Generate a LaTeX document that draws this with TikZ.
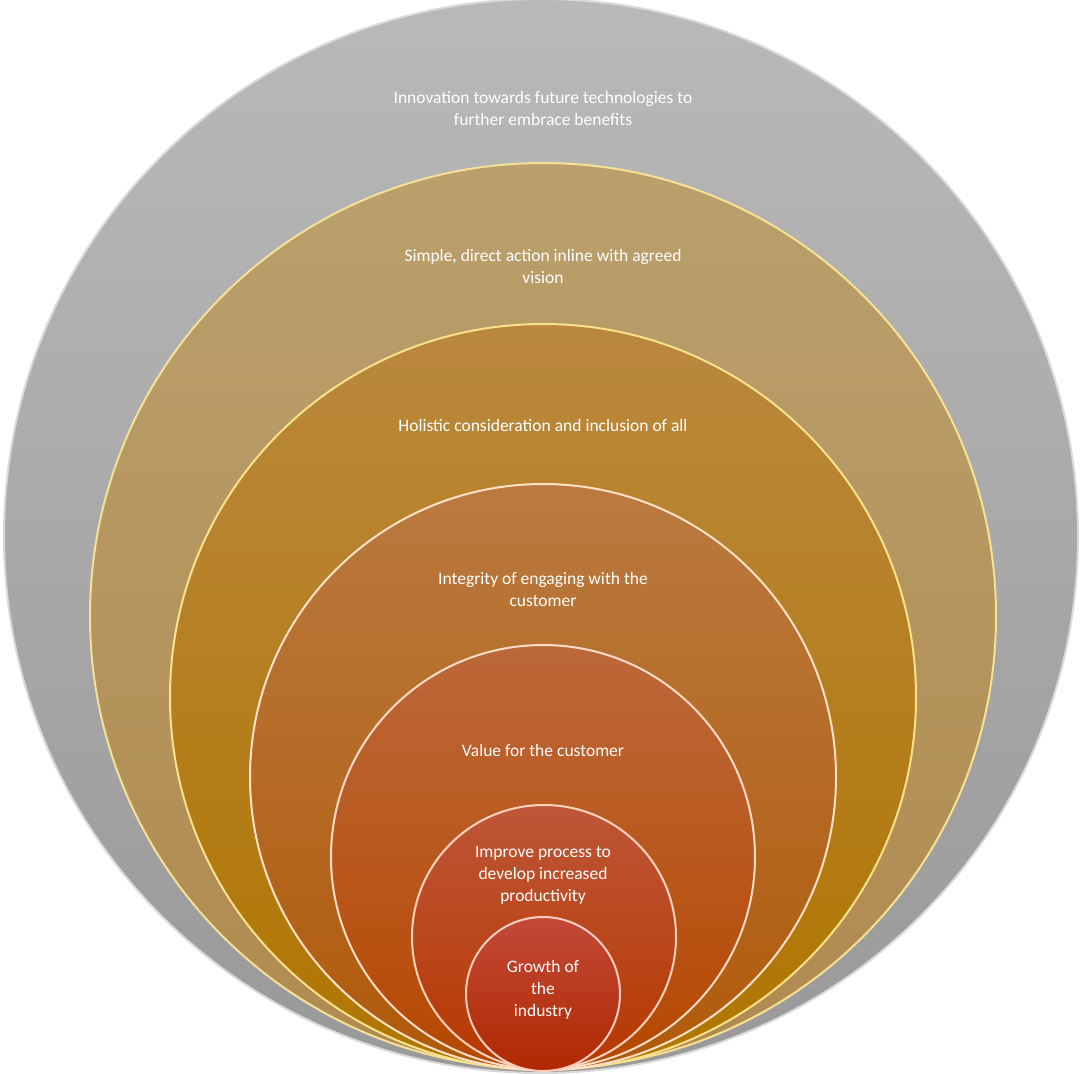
\documentclass[tikz,border=0pt]{standalone}
\usepackage{fontspec}
\setmainfont{Carlito}
\definecolor{a2}{RGB}{186,160,108}\definecolor{b2}{RGB}{176,138,80}\definecolor{r2}{RGB}{245,225,150}
\definecolor{a3}{RGB}{186,136,62}\definecolor{b3}{RGB}{176,118,0}\definecolor{r3}{RGB}{250,225,140}
\definecolor{a4}{RGB}{186,122,64}\definecolor{b4}{RGB}{176,90,10}\definecolor{r4}{RGB}{255,225,200}
\definecolor{a5}{RGB}{188,104,58}\definecolor{b5}{RGB}{182,72,0}\definecolor{r5}{RGB}{255,220,200}
\definecolor{a6}{RGB}{190,86,56}\definecolor{b6}{RGB}{182,56,0}\definecolor{r6}{RGB}{255,210,190}
\definecolor{a7}{RGB}{194,74,56}\definecolor{b7}{RGB}{176,40,0}\definecolor{r7}{RGB}{255,205,190}
\begin{document}
\begin{tikzpicture}[x=1pt,y=-1pt,
  lbl/.style={text=white,align=center,font=\fontsize{17.5}{22}\selectfont,inner sep=0pt},
  ring/.style={draw=#1,line width=2pt}]
\useasboundingbox (0,0) rectangle (1085,1074);
\shade[top color=gray!55,bottom color=gray!80,ring=gray!30] (541,536) circle (537) ;
\node[circle,minimum size=1074,inner sep=0] (c1) at (541,536) {};
\shade[top color=a2,bottom color=b2,ring=r2] (543,616) circle (453);
\node[circle,minimum size=906,inner sep=0] (c2) at (543,616) {};
\shade[top color=a3,bottom color=b3,ring=r3] (543,697) circle (373);
\node[circle,minimum size=746,inner sep=0] (c3) at (543,697) {};
\shade[top color=a4,bottom color=b4,ring=r4] (543,777) circle (293);
\node[circle,minimum size=586,inner sep=0] (c4) at (543,777) {};
\shade[top color=a5,bottom color=b5,ring=r5] (543,857) circle (212);
\node[circle,minimum size=424,inner sep=0] (c5) at (543,857) {};
\shade[top color=a6,bottom color=b6,ring=r6] (544,937) circle (132);
\node[circle,minimum size=264,inner sep=0] (c6) at (544,937) {};
\shade[top color=a7,bottom color=b7,ring=r7] (543,994) circle (77);
\node[circle,minimum size=154,inner sep=0] (c7) at (543,994) {};
\node[lbl] (t1) at (543,108) {Innovation towards future technologies to\\further embrace benefits};
\node[lbl] (t2) at (543,266) {Simple, direct action inline with agreed\\vision};
\node[lbl] (t3) at (543,425) {Holistic consideration and inclusion of all};
\node[lbl] (t4) at (543,589) {Integrity of engaging with the\\customer};
\node[lbl] (t5) at (543,750) {Value for the customer};
\node[lbl] (t6) at (543,875) {Improve process to\\develop increased\\productivity};
\node[lbl] (t7) at (543,990) {Growth of\\the\\industry};
\end{tikzpicture}
\end{document}
